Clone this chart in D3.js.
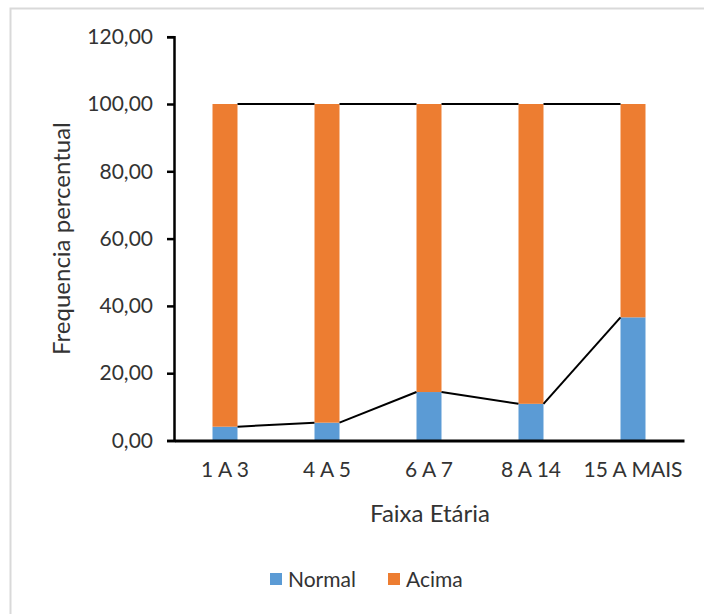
<!DOCTYPE html>
<html>
<head>
<meta charset="utf-8">
<script src="https://cdn.jsdelivr.net/npm/d3@7"></script>
<style>
  body { margin: 0; background: #fff; }
  text { font-family: Lato, "Open Sans", sans-serif; fill: #333; }
</style>
</head>
<body>
<div id="chart"></div>
<script>
'use strict';

const categories = ['1 A 3', '4 A 5', '6 A 7', '8 A 14', '15 A MAIS'];
const normal = [4.1, 5.3, 14.4, 10.9, 36.6];
const acima = [95.9, 94.7, 85.6, 89.1, 63.4];
const seriesNames = ['Normal', 'Acima'];
const colors = ['#5b9bd5', '#ed7d31'];
const yTicks = [0, 20, 40, 60, 80, 100, 120];

const width = 704;
const height = 614;
const margin = {top: 36.7, right: 20, bottom: 173.5, left: 174};

const svg = d3.select('#chart')
  .append('svg')
  .attr('width', width)
  .attr('height', height);

// outer chart frame
svg.append('rect')
  .attr('x', 10.5).attr('y', 8.5)
  .attr('width', width).attr('height', height)
  .attr('fill', 'none')
  .attr('stroke', '#d9d9d9')
  .attr('stroke-width', 2);

const x = d3.scaleBand()
  .domain(categories)
  .range([margin.left, 684])
  .paddingInner(0.755)
  .paddingOuter(0.3775);

const y = d3.scaleLinear()
  .domain([0, 120])
  .range([height - margin.bottom, margin.top]);

const rows = categories.map((c, i) => ({cat: c, Normal: normal[i], Acima: acima[i]}));
const stacked = d3.stack().keys(seriesNames)(rows);

const g = svg.append('g');

g.selectAll('g.series')
  .data(stacked)
  .enter()
  .append('g')
  .attr('fill', (d, i) => colors[i])
  .selectAll('rect')
  .data(d => d)
  .enter()
  .append('rect')
  .attr('x', d => x(d.data.cat))
  .attr('width', x.bandwidth())
  .attr('y', d => y(d[1]))
  .attr('height', d => y(d[0]) - y(d[1]));

// series lines between stacked bar tops
stacked.forEach(s => {
  for (let i = 0; i < s.length - 1; i++) {
    g.append('line')
      .attr('x1', x(s[i].data.cat) + x.bandwidth())
      .attr('y1', y(s[i][1]))
      .attr('x2', x(s[i + 1].data.cat))
      .attr('y2', y(s[i + 1][1]))
      .attr('stroke', '#000')
      .attr('stroke-width', 2);
  }
});

// y axis
const yAxis = svg.append('g')
  .attr('transform', `translate(${margin.left},0)`)
  .call(d3.axisLeft(y)
    .tickValues(yTicks)
    .tickSize(7)
    .tickPadding(14)
    .tickFormat(d => d3.format('.2f')(d).replace('.', ',')));
yAxis.select('.domain').attr('stroke', '#000').attr('stroke-width', 2.5);
yAxis.selectAll('.tick line').attr('stroke', '#000').attr('stroke-width', 2.5);
yAxis.selectAll('text').attr('font-size', 21).attr('fill', '#333');

// x axis
const xAxis = svg.append('g')
  .attr('transform', `translate(0,${y(0)})`)
  .call(d3.axisBottom(x).tickSize(0).tickPadding(22));
xAxis.select('.domain').attr('stroke', '#000').attr('stroke-width', 3);
xAxis.selectAll('text').attr('font-size', 21).attr('fill', '#333');

// axis titles
svg.append('text')
  .attr('transform', `translate(70,${(y(0) + y(120)) / 2}) rotate(-90)`)
  .attr('text-anchor', 'middle')
  .attr('font-size', 24)
  .text('Frequencia percentual');

svg.append('text')
  .attr('x', 430)
  .attr('y', 522)
  .attr('text-anchor', 'middle')
  .attr('font-size', 24)
  .text('Faixa Etária');

// legend
const legendItems = [{name: 'Normal', x: 270}, {name: 'Acima', x: 388}];
const legend = svg.append('g');
legendItems.forEach((d, i) => {
  legend.append('rect')
    .attr('x', d.x).attr('y', 573)
    .attr('width', 12).attr('height', 12)
    .attr('fill', colors[i]);
  legend.append('text')
    .attr('x', d.x + 18).attr('y', 587)
    .attr('font-size', 21)
    .text(d.name);
});
</script>
</body>
</html>
